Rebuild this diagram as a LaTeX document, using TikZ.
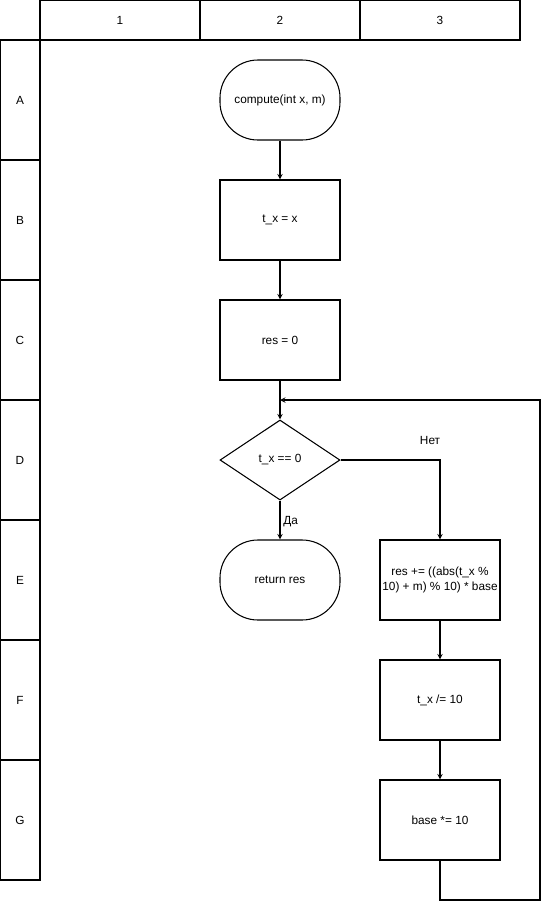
\documentclass[tikz,border=0pt]{standalone}
\usepackage{fontspec}
\setmainfont{Liberation Sans}
\usetikzlibrary{shapes.geometric}

\begin{document}
\begin{tikzpicture}[
    x=0.025cm, y=-0.025cm,
    font=\fontsize{8.4}{10.5}\selectfont,
    every node/.style={line width=0.75pt},
    colhead/.style={rectangle, draw, minimum width=4cm, minimum height=1cm},
    rowhead/.style={rectangle, draw, minimum width=1cm, minimum height=3cm},
    terminal/.style={rectangle, draw, rounded corners=0.95cm, minimum width=3cm, minimum height=2cm, align=center},
    process/.style={rectangle, draw, minimum width=3cm, minimum height=2cm, inner sep=1pt, align=center},
    decision/.style={diamond, draw, aspect=1.5, inner sep=0pt, minimum width=3cm, minimum height=2cm},
    arrow/.style={->, line width=0.75pt, >=stealth}
]
\useasboundingbox (0,0) rectangle (549,910);

% Column headers
\node[colhead] (c1) at (120,20) {1};
\node[colhead] (c2) at (280,20) {2};
\node[colhead] (c3) at (440,20) {3};

% Row headers
\node[rowhead] (rA) at (20,100) {A};
\node[rowhead] (rB) at (20,220) {B};
\node[rowhead] (rC) at (20,340) {C};
\node[rowhead] (rD) at (20,460) {D};
\node[rowhead] (rE) at (20,580) {E};
\node[rowhead] (rF) at (20,700) {F};
\node[rowhead] (rG) at (20,820) {G};

% Flowchart
\node[terminal] (start) at (280,100) {compute(int x, m)};
\node[process] (initx) at (280,220) {t\_x = x};
\node[process] (initres) at (280,340) {res = 0};
\node[decision] (cond) at (280,460) {t\_x == 0};
\node[terminal] (ret) at (280,580) {return res};
\node[process] (accum) at (440,580) {res += ((abs(t\_x \%\\10) + m) \% 10) * base};
\node[process] (divx) at (440,700) {t\_x /= 10};
\node[process] (mulbase) at (440,820) {base *= 10};

% Loop points
\coordinate (loopin) at (280,400);
\coordinate (loopcorner) at (540,900);

% Arrows
\draw[arrow] (start.south) -- (initx.north);
\draw[arrow] (initx.south) -- (initres.north);
\draw[arrow] (initres.south) -- (cond.north);
\draw[arrow] (cond.south) -- (ret.north) node[pos=0.55, right, inner sep=2pt] {Да};
\draw[arrow] (cond.east) -| (accum.north) node[pos=0.45, above, yshift=7pt] {Нет};
\draw[arrow] (accum.south) -- (divx.north);
\draw[arrow] (divx.south) -- (mulbase.north);
\draw[arrow] (mulbase.south) |- (loopcorner) |- (loopin);

\end{tikzpicture}
\end{document}
